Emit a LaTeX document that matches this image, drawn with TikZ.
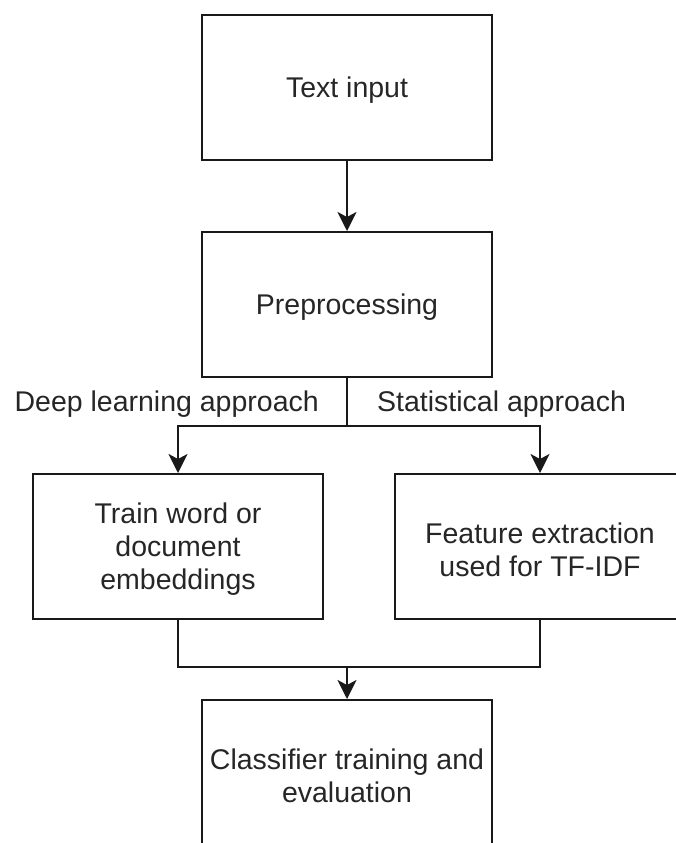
\documentclass[tikz,border=0pt]{standalone}
\usepackage{fontspec}
\setmainfont{Liberation Sans}
\usetikzlibrary{arrows.meta}

\begin{document}
\begin{tikzpicture}[x=1pt, y=-1pt,
  every node/.style={font=\fontsize{28.5pt}{33pt}\selectfont, text=black!85},
  stepbox/.style={draw=black!90, line width=2pt, minimum width=290pt,
    minimum height=145pt, inner sep=0pt},
  boxtext/.style={inner sep=0pt, align=center, yshift=-3pt},
  lbl/.style={inner sep=0pt},
  link/.style={draw=black!90, line width=2pt},
  arr/.style={link, -{Stealth[length=19pt, width=19pt, inset=5pt]}}
]
  \useasboundingbox (0,0) rectangle (676,843);

  % process boxes, captions set slightly below the centre
  \node[stepbox, label={[boxtext]center:Text input}] (input) at (347,87.5) {};
  \node[stepbox, label={[boxtext]center:Preprocessing}] (prep) at (347,304.5) {};
  \node[stepbox, label={[boxtext]center:{Train word or\\document\\embeddings}}] (embed) at (178,546.5) {};
  \node[stepbox, label={[boxtext]center:{Feature extraction\\used for TF-IDF}}] (tfidf) at (540,546.5) {};
  \node[stepbox, label={[boxtext]center:{Classifier training and\\evaluation}}] (clf) at (347,772.5) {};

  % branch and merge points
  \coordinate (split) at (347,426);
  \coordinate (merge) at (347,667);

  % branch labels
  \node[lbl, anchor=east] (deep) at (319,404.5) {Deep learning approach};
  \node[lbl, anchor=west] (stat) at (377,404.5) {Statistical approach};

  % connectors
  \draw[arr] (input) -- (prep);
  \draw[link] (prep) -- (split);
  \draw[arr] (split) -| (embed);
  \draw[arr] (split) -| (tfidf);
  \draw[link] (embed) |- (merge);
  \draw[link] (tfidf) |- (merge);
  \draw[arr] (merge) -- (clf);
\end{tikzpicture}
\end{document}
